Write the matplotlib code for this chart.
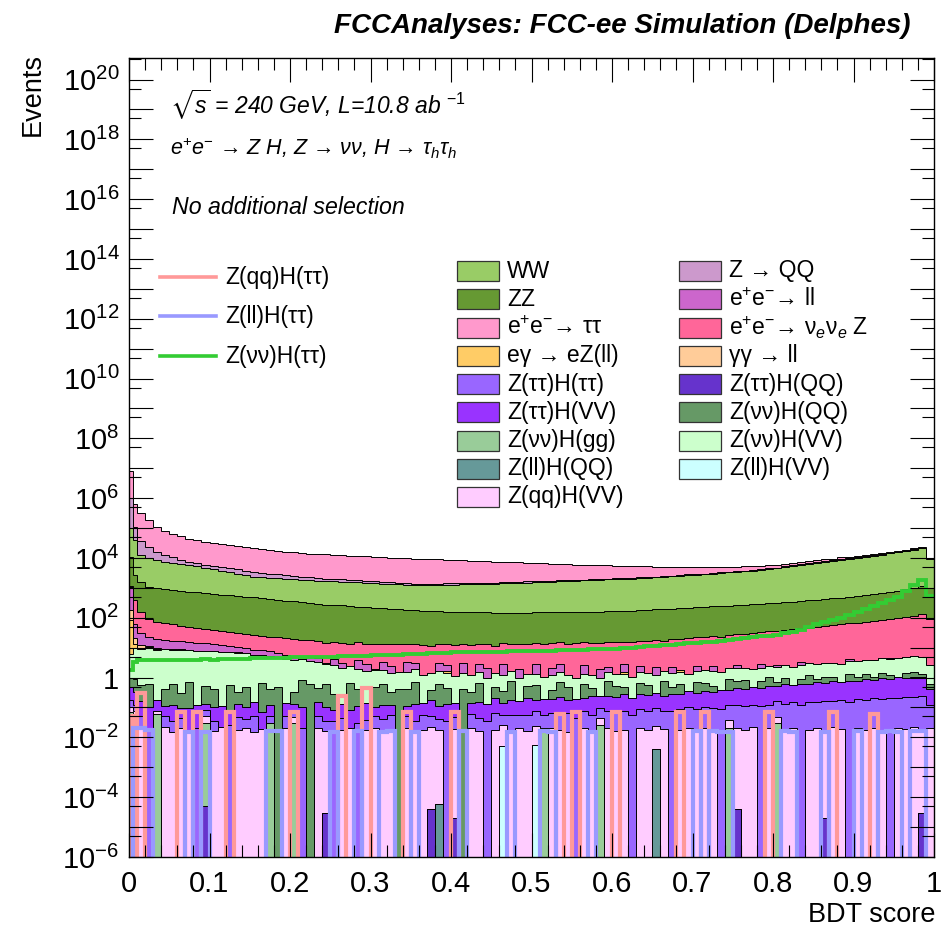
import numpy as np
import matplotlib
matplotlib.use("Agg")
import matplotlib.pyplot as plt
from matplotlib.patches import Rectangle
from matplotlib.lines import Line2D
from matplotlib.ticker import FixedLocator, MultipleLocator, FuncFormatter

plt.rcParams['font.family'] = ['Liberation Sans', 'DejaVu Sans']
plt.rcParams['mathtext.fontset'] = 'custom'
plt.rcParams['mathtext.rm'] = 'Liberation Sans'
plt.rcParams['mathtext.it'] = 'Liberation Sans:italic'
plt.rcParams['mathtext.bf'] = 'Liberation Sans:bold'
plt.rcParams['mathtext.sf'] = 'Liberation Sans'
plt.rcParams['mathtext.fallback'] = 'stixsans'

# ---------------- data ----------------
# BDT score bins: first bin 0-0.005, second 0.005-0.01, then 0.01 wide
BIN_EDGES = np.concatenate([[0.0, 0.005], np.arange(1, 101) / 100.0])

EE_TAUTAU = [
    6.8e6, 5.2e5, 2.8e5, 1.69e5, 9.6e4, 6.7e4, 5.3e4, 4.36e4, 3.71e4, 3.21e4,
    2.87e4, 2.61e4, 2.39e4, 2.23e4, 2.09e4, 1.91e4, 1.79e4, 1.68e4, 1.56e4, 1.46e4,
    1.35e4, 1.30e4, 1.24e4, 1.18e4, 1.17e4, 1.12e4, 1.10e4, 1.04e4, 1.02e4, 9.7e3,
    9.5e3, 9.3e3, 9.1e3, 8.6e3, 8.5e3, 8.3e3, 8.2e3, 7.95e3, 7.74e3, 7.53e3,
    7.3e3, 7.1e3, 6.88e3, 6.7e3, 6.46e3, 6.28e3, 6.08e3, 5.87e3, 5.65e3, 5.46e3,
    5.27e3, 5.1e3, 4.92e3, 4.73e3, 4.53e3, 4.35e3, 4.16e3, 4.12e3, 3.94e3, 3.76e3,
    3.58e3, 3.41e3, 3.23e3, 3.19e3, 3.01e3, 2.9e3, 2.74e3, 2.63e3, 2.45e3, 2.33e3,
    2.2e3, 2.13e3, 1.99e3, 1.85e3, 1.7e3, 1.66e3, 1.5e3, 1.46e3, 1.39e3, 1.33e3,
    1.15e3, 1.1e3, 1.06e3, 1.14e3, 1.08e3, 1.15e3, 1.08e3, 1.15e3, 1.04e3, 1.38e3,
    1.43e3, 1.5e3, 1.4e3, 1.55e3, 1.6e3, 1.45e3, 1.2e3, 1.3e3, 1.0e3, 600,
    300]

Z_QQ = [
    9.0e5, 7.2e4, 2.3e4, 1.24e4, 7.7e3, 5.0e3, 3.6e3, 2.6e3, 1.84e3, 1.5e3,
    1.24e3, 1.33e3, 1.18e3, 1.26e3, 1.22e3, 1.17e3, 1.07e3, 950, 830, 730,
    690, 560, 540, 470, 400, 340, 290, 290, 270, 270,
    260, 250, 240, 230, 190, 160, 120, 120, 120, 120,
    120, 120, 125, 125, 130, 130, 130, 135, 140, 140,
    145, 110, 110, 115, 115, 120, 120, 125, 130, 130,
    135, 135, 140, 145, 150, 150, 155, 160, 165, 175,
    180, 130, 135, 140, 150, 155, 160, 170, 175, 185,
    200, 215, 235, 250, 275, 295, 320, 350, 380, 410,
    440, 470, 510, 550, 600, 650, 700, 780, 850, 900,
    400]

WW = [
    9.0e4, 3.7e4, 1.1e4, 8.9e3, 7.5e3, 6.7e3, 6.1e3, 5.5e3, 5.0e3, 4.5e3,
    4.13e3, 3.54e3, 3.13e3, 2.75e3, 2.43e3, 2.13e3, 1.92e3, 1.84e3, 1.77e3, 1.69e3,
    1.63e3, 1.6e3, 1.53e3, 1.51e3, 1.45e3, 1.42e3, 1.4e3, 1.36e3, 1.3e3, 1.28e3,
    1.26e3, 1.23e3, 1.17e3, 1.15e3, 1.13e3, 1.11e3, 1.09e3, 1.09e3, 1.09e3, 1.10e3,
    1.13e3, 1.14e3, 1.16e3, 1.17e3, 1.2e3, 1.2e3, 1.23e3, 1.26e3, 1.3e3, 1.33e3,
    1.36e3, 1.4e3, 1.43e3, 1.47e3, 1.51e3, 1.55e3, 1.58e3, 1.62e3, 1.66e3, 1.70e3,
    1.75e3, 1.78e3, 1.83e3, 1.87e3, 1.91e3, 2.0e3, 2.05e3, 2.15e3, 2.2e3, 2.3e3,
    2.41e3, 2.53e3, 2.65e3, 2.78e3, 2.91e3, 3.05e3, 3.2e3, 3.35e3, 3.51e3, 3.69e3,
    3.96e3, 4.25e3, 4.68e3, 5.02e3, 5.53e3, 5.93e3, 6.52e3, 6.99e3, 7.68e3, 8.24e3,
    8.83e3, 9.46e3, 1.04e4, 1.11e4, 1.22e4, 1.34e4, 1.47e4, 1.61e4, 1.81e4, 2.03e4,
    8.3e3]

ZZ = [
    9.9e3, 2.3e3, 1.42e3, 1.01e3, 880, 823, 770, 720, 690, 660,
    617, 591, 553, 528, 493, 472, 452, 421, 393, 376,
    351, 335, 312, 292, 272, 260, 248, 243, 231, 220,
    210, 205, 195, 187, 178, 169, 162, 158, 154, 150,
    146, 143, 143, 138, 138, 138, 138, 135, 135, 134,
    134, 138, 138, 138, 138, 137, 141, 141, 144, 144,
    147, 151, 154, 158, 161, 165, 173, 176, 184, 189,
    198, 202, 211, 215, 225, 230, 241, 245, 256, 262,
    274, 279, 292, 305, 318, 332, 347, 362, 388, 405,
    433, 465, 497, 534, 572, 629, 689, 776, 874, 985,
    900]

EE_NUENUE_Z = [
    60, 335, 127, 67, 54, 48, 43, 38, 35, 32,
    29, 26, 23, 21, 20.5, 19, 18, 17, 16, 15.5,
    15, 14, 13.2, 12.5, 12.8, 11.6, 11.2, 11.8, 10.6, 11.3,
    10.8, 11.5, 10.2, 10.9, 11.4, 10.1, 10.6, 11.2, 9.8, 10.5,
    10.3, 11.0, 10.1, 11.3, 10.7, 11.6, 10.4, 11.5, 12.0, 11.1,
    12.3, 11.6, 12.6, 11.9, 12.8, 12.1, 13.0, 12.4, 13.3, 12.7,
    12.9, 13.8, 13.2, 14.5, 14.0, 15.2, 15.8, 15.1, 17.0, 17.8,
    20.2, 19.5, 21.8, 22.5, 22.0, 24.6, 25.5, 26.8, 28.0, 29.9,
    33, 33.5, 36, 38.5, 41, 43.5, 47, 50.5, 53, 57.5,
    63, 66, 70, 76, 80, 86, 93, 104, 113, 133,
    90]

EE_LL = [
    900, 40, 20, 12, 10, 9, 8.5, 8, 7, 6.5,
    6, 5.5, 5, 4.5, 3.8, 3.3, 2.8, 2.5, 2.3, 2.0,
    1.6, 1.4, 0, 1.5, 1.2, 0, 1.6, 1.0, 0, 1.8,
    1.3, 0, 1.5, 0.9, 0, 1.7, 1.2, 0, 0, 1.5,
    1.0, 0, 1.6, 0, 1.3, 1.1, 0, 1.6, 0, 1.0,
    0, 1.4, 0, 0.9, 1.3, 0, 0, 1.2, 0, 1.0,
    0.8, 0, 1.3, 0, 0.9, 0, 1.1, 0, 0.8, 0,
    0, 0.7, 0, 0.9, 0, 0, 0.6, 0, 0, 0.8,
    0, 0.5, 0, 0, 0.6, 0, 0, 0, 0, 0,
    0.5, 0, 0, 0, 0, 0.4, 0, 0, 0, 0,
    0]

GAMGAM_LL = [
    100, 8, 2, 0.8, 0.4, 0, 0.3, 0, 0.2, 0,
    0, 0, 0, 0, 0, 0, 0, 0, 0, 0,
    0, 0, 0, 0, 0, 0, 0, 0, 0, 0,
    0, 0, 0, 0, 0, 0, 0, 0, 0, 0,
    0, 0, 0, 0, 0, 0, 0, 0, 0, 0,
    0, 0, 0, 0, 0, 0, 0, 0, 0, 0,
    0, 0, 0, 0, 0, 0, 0, 0, 0, 0,
    0, 0, 0, 0, 0, 0, 0, 0, 0, 0,
    0, 0, 0, 0, 0, 0, 0, 0, 0, 0,
    0, 0, 0, 0, 0, 0, 0, 0, 0, 0,
    0]

EGAMMA_EZLL = [
    80, 3, 1.0, 0.6, 0.5, 0.3, 0, 0.3, 0, 0.25,
    0, 0, 0.2, 0, 0.3, 0, 0, 0, 0, 0,
    0, 0, 0, 0, 0, 0.2, 0, 0, 0, 0,
    0, 0.15, 0, 0, 0, 0, 0, 0, 0, 0,
    0.2, 0, 0, 0, 0, 0, 0, 0, 0, 0,
    0, 0, 0, 0, 0, 0, 0, 0, 0, 0,
    0, 0, 0.25, 0, 0, 0, 0, 0, 0, 0.3,
    0, 0, 0, 0, 0, 0, 0, 0, 0, 0,
    0, 0, 0, 0, 0, 0, 0, 0, 0, 0,
    0, 0, 0, 0, 0.3, 0, 0, 0, 0, 0,
    0]

ZNUNU_HVV = [
    5, 9, 8.5, 9.2, 8.4, 8.6, 7.9, 8.1, 7.7, 7.6,
    7.5, 7.1, 7.0, 6.6, 6.5, 5.9, 5.7, 5.1, 4.9, 4.3,
    4.1, 3.5, 3.4, 2.9, 2.8, 2.3, 2.3, 1.9, 1.85, 1.55,
    1.5, 1.25, 1.22, 1.15, 1.15, 1.1, 1.15, 1.08, 1.1, 1.03,
    1.02, 0.96, 0.97, 0.9, 0.92, 0.86, 0.88, 0.83, 0.85, 0.81,
    0.83, 0.78, 0.82, 0.79, 0.8, 0.77, 0.79, 0.76, 0.8, 0.77,
    0.79, 0.78, 0.82, 0.8, 0.85, 0.83, 0.89, 0.88, 0.94, 0.93,
    1.0, 1.0, 1.08, 1.08, 1.17, 1.18, 1.28, 1.28, 1.4, 1.4,
    1.45, 1.5, 1.62, 1.64, 1.78, 1.8, 1.94, 1.97, 2.12, 2.18,
    2.33, 2.4, 2.64, 2.7, 2.94, 3.05, 3.34, 3.45, 3.62, 3.58,
    2.0]

ZNUNU_HQQ = [
    0.5, 0.6, 0.4, 0.5, 0, 0.3, 0.5, 0.2, 0.6, 0,
    0.4, 0.3, 0, 0.5, 0.2, 0.4, 0, 0.6, 0.3, 0.5,
    0, 0.2, 0.7, 0.6, 0.3, 0.5, 0.2, 0, 0.6, 0.3,
    0, 0.4, 0.5, 0.2, 0.4, 0.3, 0.6, 0, 0.2, 0.5,
    0.3, 0, 0.4, 0.2, 0.5, 0, 0.3, 0.2, 0.6, 0,
    0.3, 0.4, 0, 0.2, 0.5, 0.3, 0, 0.4, 0.2, 0,
    0.5, 0.3, 0.2, 0, 0.4, 0.3, 0, 0.5, 0.2, 0.3,
    0, 0.4, 0.3, 0.2, 0, 0.5, 0.3, 0.4, 0, 0.3,
    0.5, 0.2, 0.4, 0, 0.3, 0.6, 0.2, 0.4, 0.3, 0,
    0.5, 0.3, 0.4, 0.2, 0.5, 0.3, 0, 0.4, 0.5, 0.3,
    0.2]

ZTAUTAU_HVV = [
    0.3, 0.2, 0.12, 0.08, 0.1, 0.06, 0.09, 0.05, 0.08, 0.1,
    0.05, 0.07, 0.09, 0.04, 0.08, 0.06, 0.1, 0.05, 0.07, 0,
    0.09, 0.06, 0.08, 0, 0.1, 0.07, 0.05, 0.09, 0.06, 0.08,
    0.1, 0.05, 0.08, 0.07, 0, 0.06, 0.09, 0.08, 0.12, 0.07,
    0.1, 0.09, 0, 0.08, 0.11, 0.1, 0.14, 0.09, 0.12, 0.11,
    0.15, 0.1, 0.14, 0.12, 0.16, 0.11, 0.15, 0.13, 0.18, 0.14,
    0.17, 0.15, 0.2, 0.16, 0.19, 0.18, 0.22, 0.17, 0.21, 0.2,
    0.25, 0.22, 0.26, 0.24, 0.3, 0.27, 0.32, 0.3, 0.36, 0.33,
    0.4, 0.37, 0.47, 0.41, 0.5, 0.44, 0.55, 0.49, 0.6, 0.53,
    0.63, 0.58, 0.7, 0.64, 0.76, 0.7, 0.82, 0.76, 0.86, 0.8,
    0.3]

ZTAUTAU_HTAUTAU = [
    0.08, 0.05, 0.03, 0.02, 0, 0.03, 0.02, 0.025, 0, 0.02,
    0.03, 0.02, 0, 0.025, 0.03, 0.02, 0.035, 0, 0.02, 0,
    0.03, 0.025, 0.02, 0, 0.03, 0.02, 0.035, 0.025, 0, 0.03,
    0.02, 0.03, 0.025, 0.035, 0, 0.03, 0.02, 0.04, 0.03, 0.025,
    0.035, 0.03, 0, 0.04, 0.03, 0.035, 0.045, 0.03, 0.04, 0.035,
    0.04, 0.05, 0.035, 0.045, 0.04, 0.05, 0.045, 0.055, 0.04, 0.05,
    0.055, 0.05, 0.06, 0.055, 0.065, 0.06, 0.07, 0.06, 0.075, 0.07,
    0.08, 0.07, 0.085, 0.08, 0.09, 0.085, 0.1, 0.09, 0.1, 0.11,
    0.1, 0.12, 0.11, 0.13, 0.12, 0.14, 0.13, 0.15, 0.14, 0.16,
    0.15, 0.17, 0.16, 0.18, 0.17, 0.2, 0.19, 0.21, 0.2, 0.22,
    0.1]

ZQQ_HVV = [
    0.03, 0.025, 0.02, 0, 0.018, 0.022, 0.015, 0.02, 0.017, 0,
    0.02, 0.016, 0.022, 0, 0.018, 0.02, 0.015, 0.019, 0, 0,
    0.02, 0.017, 0, 0, 0.021, 0.016, 0, 0.018, 0.02, 0,
    0.017, 0.021, 0.015, 0.019, 0, 0.02, 0.016, 0.018, 0.022, 0.017,
    0, 0.019, 0, 0.02, 0.016, 0, 0.018, 0.021, 0.017, 0.02,
    0.016, 0.019, 0, 0.02, 0.018, 0.015, 0, 0.021, 0.017, 0.019,
    0.02, 0.016, 0.018, 0, 0.021, 0.017, 0.02, 0.019, 0, 0.018,
    0.02, 0.017, 0.021, 0.016, 0, 0.019, 0.02, 0.018, 0.022, 0,
    0.02, 0.017, 0.019, 0.021, 0, 0.018, 0.02, 0.016, 0.022, 0.019,
    0, 0.02, 0.018, 0.021, 0.017, 0, 0.02, 0.019, 0.022, 0.018,
    0.02]

ZNUNU_HGG = [
    0.05, 0.04, 0, 0, 0.06, 0, 0, 0, 0, 0,
    0.03, 0, 0, 0, 0, 0, 0, 0, 0.03, 0,
    0, 0.03, 0, 0, 0, 0, 0, 0, 0, 0,
    0, 0, 0, 0, 0, 0, 0, 0, 0, 0,
    0, 0, 0, 0, 0, 0, 0, 0, 0, 0,
    0, 0, 0.02, 0, 0, 0, 0, 0, 0, 0.025,
    0, 0, 0, 0, 0, 0, 0, 0, 0, 0,
    0, 0, 0, 0, 0, 0.02, 0, 0, 0, 0,
    0, 0.03, 0, 0, 0, 0, 0, 0, 0, 0,
    0, 0, 0, 0, 0, 0, 0, 0, 0, 0,
    0]

ZLL_HQQ = [
    0.01, 0, 0, 0, 0, 0, 0, 0, 0, 0,
    0, 0, 0, 0, 0, 0, 0, 0, 0, 0,
    0, 0, 0, 0, 0, 0, 0, 0, 0, 0,
    0, 0, 0, 0, 0, 0, 0, 0, 0, 6e-5,
    0, 0, 0, 0, 0, 0, 0, 0, 0, 0,
    0, 0, 0, 0, 0, 0, 0, 0, 0, 0,
    0, 0, 0, 0, 0, 0, 0.004, 0, 0, 0,
    0, 0, 0, 0, 0, 0, 0, 0, 0, 0,
    0, 0, 0, 0, 0, 0, 0, 0, 0, 0,
    0, 0, 0, 0, 0, 0, 0, 0, 0, 0,
    0]

ZTAUTAU_HQQ = [
    0, 0, 0, 0, 0, 0, 0, 0, 0, 0,
    5e-5, 0, 0, 0, 0, 0, 0, 0, 0, 0,
    0, 0, 0, 0, 0, 3e-5, 0, 0, 0, 0,
    0, 0, 0, 0, 0, 0, 0, 0, 4e-5, 0,
    0, 2e-5, 0, 0, 0, 0, 0, 0, 0, 0,
    0, 0, 0, 0, 0, 0, 0, 0, 0, 0,
    0, 0, 0, 0, 0, 0, 0, 0, 0, 0,
    0, 0, 0, 0, 0, 0, 4e-5, 0, 0, 0,
    0, 0, 0, 0, 0, 0, 0, 2e-5, 0, 0,
    0, 0, 0, 0, 0, 0, 0, 0, 0, 3e-5,
    0]

ZLL_HVV = [
    0.012, 0.01, 0, 0, 0, 0, 0, 0, 0, 0,
    0, 0, 0, 0, 0, 0, 0, 0, 0, 0,
    0, 0, 0, 0, 0, 0, 0, 0, 0, 0,
    0, 0, 0, 0, 0, 0, 0, 0, 0, 0,
    0, 0, 0, 0, 0, 0, 0, 0.005, 0, 0,
    0, 0.0056, 0, 0, 0, 0, 0, 0, 0, 0,
    0, 0, 0, 0, 0, 0, 0, 0, 0, 0,
    0, 0, 0, 0, 0, 0, 0, 0, 0, 0,
    0, 0, 0, 0, 0, 0, 0, 0, 0, 0,
    0, 0, 0, 0, 0, 0, 0, 0, 0, 0,
    0]

# signals (drawn as lines)
SIG_ZQQ_HTAUTAU = [
    0.05, 0, 0.3, 0, 0, 0, 0, 0.07, 0, 0.07,
    0, 0, 0, 0.07, 0, 0, 0, 0, 0, 0,
    0, 0.07, 0, 0, 0, 0, 0, 0.25, 0, 0,
    0.45, 0, 0, 0, 0, 0.07, 0, 0, 0, 0,
    0, 0.07, 0, 0, 0, 0, 0, 0, 0, 0,
    0, 0, 0, 0, 0.06, 0, 0.07, 0, 0, 0,
    0, 0.07, 0, 0, 0, 0, 0, 0, 0, 0.07,
    0, 0, 0.07, 0, 0, 0, 0, 0, 0, 0,
    0.07, 0, 0, 0, 0, 0, 0, 0, 0.07, 0,
    0, 0, 0, 0.06, 0, 0, 0, 0, 0, 0,
    0]

SIG_ZLL_HTAUTAU = [
    0, 0.02, 0.02, 0.018, 0, 0, 0, 0, 0.015, 0,
    0.015, 0, 0, 0, 0, 0, 0, 0, 0.016, 0.016,
    0, 0, 0, 0, 0, 0, 0.015, 0, 0, 0.016,
    0, 0, 0.015, 0.016, 0, 0, 0.015, 0, 0, 0,
    0, 0, 0.016, 0, 0, 0, 0, 0, 0.015, 0,
    0, 0, 0.016, 0.015, 0, 0, 0, 0, 0.015, 0,
    0, 0, 0, 0, 0, 0, 0, 0, 0, 0,
    0, 0.016, 0, 0.016, 0.015, 0.015, 0, 0, 0, 0,
    0, 0, 0.016, 0.015, 0, 0, 0, 0.015, 0, 0,
    0, 0.016, 0, 0, 0.015, 0.016, 0.015, 0, 0.016, 0.016,
    0]

SIG_ZNUNU_HTAUTAU = [
    1.8, 3.2, 3.8, 4.0, 3.9, 4.0, 3.9, 3.8, 4.0, 4.0,
    4.1, 4.0, 4.2, 4.1, 4.2, 4.3, 4.5, 4.4, 4.5, 4.6,
    4.6, 4.7, 4.8, 4.8, 4.9, 5.0, 5.0, 5.1, 5.2, 5.2,
    5.4, 5.5, 5.6, 5.75, 5.9, 6.0, 6.3, 6.3, 6.45, 6.6,
    6.75, 6.9, 6.9, 7.1, 7.2, 7.2, 7.4, 7.4, 7.6, 7.6,
    7.8, 7.8, 7.9, 7.9, 8.1, 8.3, 8.3, 8.5, 8.7, 8.9,
    9.1, 9.3, 9.8, 10.0, 10.5, 11.0, 11.5, 12.0, 12.6, 13.2,
    13.8, 14.5, 15.1, 15.8, 17.0, 18.2, 19.5, 20.9, 22.4, 24.0,
    25.1, 26.3, 30.2, 34.7, 39.8, 47.9, 60.3, 72.4, 85.1, 100,
    126, 158, 200, 245, 302, 380, 501, 794, 1259, 1778,
    537]

# stack order: bottom -> top  (label, values, colour)
STACK = [
    ("Z(ll)H(VV)", ZLL_HVV, "#ccffff"),
    ("Z(ττ)H(QQ)", ZTAUTAU_HQQ, "#6633cc"),
    ("Z(ll)H(QQ)", ZLL_HQQ, "#669999"),
    ("Z(νν)H(gg)", ZNUNU_HGG, "#99cc99"),
    ("Z(qq)H(VV)", ZQQ_HVV, "#ffccff"),
    ("Z(ττ)H(ττ)", ZTAUTAU_HTAUTAU, "#9966ff"),
    ("Z(ττ)H(VV)", ZTAUTAU_HVV, "#9933ff"),
    ("Z(νν)H(QQ)", ZNUNU_HQQ, "#669966"),
    ("Z(νν)H(VV)", ZNUNU_HVV, "#ccffcc"),
    ("eγ → eZ(ll)", EGAMMA_EZLL, "#ffcc66"),
    ("γγ → ll", GAMGAM_LL, "#ffcc99"),
    ("ee→ll", EE_LL, "#cc66cc"),
    ("ee→nunuZ", EE_NUENUE_Z, "#ff6699"),
    ("ZZ", ZZ, "#669933"),
    ("WW", WW, "#99cc66"),
    ("Z→QQ", Z_QQ, "#cc99cc"),
    ("ee→tautau", EE_TAUTAU, "#ff99cc"),
]

# legend (two columns, as in the reference)
LEGEND_COL1 = [
    ("WW", "#99cc66"),
    ("ZZ", "#669933"),
    ("e$^{+}$e$^{-}$→ ττ", "#ff99cc"),
    ("eγ → eZ(ll)", "#ffcc66"),
    ("Z(ττ)H(ττ)", "#9966ff"),
    ("Z(ττ)H(VV)", "#9933ff"),
    ("Z(νν)H(gg)", "#99cc99"),
    ("Z(ll)H(QQ)", "#669999"),
    ("Z(qq)H(VV)", "#ffccff"),
]
LEGEND_COL2 = [
    ("Z → QQ", "#cc99cc"),
    ("e$^{+}$e$^{-}$→ ll", "#cc66cc"),
    ("e$^{+}$e$^{-}$→ ν$_{e}$ν$_{e}$ Z", "#ff6699"),
    ("γγ → ll", "#ffcc99"),
    ("Z(ττ)H(QQ)", "#6633cc"),
    ("Z(νν)H(QQ)", "#669966"),
    ("Z(νν)H(VV)", "#ccffcc"),
    ("Z(ll)H(VV)", "#ccffff"),
]
SIGNALS = [
    ("Z(qq)H(ττ)", SIG_ZQQ_HTAUTAU, "#ff9999"),
    ("Z(ll)H(ττ)", SIG_ZLL_HTAUTAU, "#9999ff"),
    ("Z(νν)H(ττ)", SIG_ZNUNU_HTAUTAU, "#33cc33"),
]

for _n, _v, _c in STACK + SIGNALS:
    assert len(_v) == len(BIN_EDGES) - 1, (_n, len(_v))

# ---------------- figure ----------------
W = H = 941
fig = plt.figure(figsize=(W / 100, H / 100), dpi=100)


def fx(px):
    return px / W


def fy(py):
    return 1.0 - py / H


AX_L, AX_R, AX_T, AX_B = 129, 934, 58, 857
ax = fig.add_axes([fx(AX_L), fy(AX_B), (AX_R - AX_L) / W, (AX_B - AX_T) / H])
ax.set_yscale('log')
ax.set_xlim(0, 1)
ax.set_ylim(1e-6, 10 ** 20.72)
ax.set_axisbelow(False)

FLOOR = 1e-12
cum = np.cumsum(np.vstack([np.asarray(v, float) for _, v, _ in STACK]), axis=0)
for k in range(len(STACK) - 1, -1, -1):
    ax.stairs(np.maximum(cum[k], FLOOR), BIN_EDGES, baseline=FLOOR, fill=True,
              facecolor=STACK[k][2], edgecolor='black', linewidth=0.7, zorder=1)

for i, (name, vals, col) in enumerate(SIGNALS):
    v = np.maximum(np.asarray(vals, float), FLOOR)
    base = None if i == 2 else FLOOR
    ax.stairs(v, BIN_EDGES, baseline=base, fill=False, color=col,
              linewidth=(2.8 if i == 2 else 3.0), zorder=2)

# axes / ticks
ax.yaxis.set_major_locator(FixedLocator([10.0 ** e for e in range(-6, 21)]))
ax.yaxis.set_minor_locator(FixedLocator([5 * 10.0 ** e for e in range(-7, 21)]))


def ylab(v, pos):
    e = int(round(np.log10(v)))
    if e % 2:
        return ''
    if e == 0:
        return '1'
    return r'$10^{%d}$' % e


ax.yaxis.set_major_formatter(FuncFormatter(ylab))
ax.xaxis.set_major_locator(MultipleLocator(0.1))
ax.xaxis.set_minor_locator(MultipleLocator(0.02))
ax.xaxis.set_major_formatter(FuncFormatter(lambda v, p: '%g' % round(v, 2)))
ax.tick_params(which='both', direction='in', top=True, right=True, width=0.8,
               color='black')
ax.tick_params(which='major', length=17.5, labelsize=21)
ax.tick_params(which='minor', length=8.7)
ax.tick_params(axis='x', pad=9)
ax.tick_params(axis='y', pad=7)
for s in ax.spines.values():
    s.set_linewidth(1.0)
    s.set_zorder(5)

# texts
fig.text(fx(910), fy(33), "FCCAnalyses: FCC-ee Simulation (Delphes)",
         ha='right', va='baseline', fontsize=20, fontweight='bold', style='italic')
fig.text(fx(33), fy(53), "Events", rotation=90, ha='center', va='top', fontsize=19.5)
fig.text(fx(935), fy(915), "BDT score", ha='right', va='center', fontsize=19.5)
fig.text(fx(170), fy(105), r"$\sqrt{s}$ = 240 GeV, L=10.8 ab $^{-1}$",
         ha='left', va='center', fontsize=16.5, style='italic')
fig.text(fx(170), fy(148),
         r"e$^{+}$e$^{-}$ → Z H, Z → νν, H → τ$_{h}$τ$_{h}$",
         ha='left', va='center', fontsize=15.5, style='italic')
fig.text(fx(172), fy(207), "No additional selection", ha='left', va='center',
         fontsize=16.7, style='italic')

# signal legend
for i, (name, vals, col) in enumerate(SIGNALS):
    yc = 277 + 39.5 * i
    fig.add_artist(Line2D([fx(160), fx(216)], [fy(yc), fy(yc)], color=col,
                          linewidth=2.6, transform=fig.transFigure))
    fig.text(fx(225), fy(yc), name, ha='left', va='center', fontsize=16.5)

# background legend
for cx, entries in ((457, LEGEND_COL1), (679, LEGEND_COL2)):
    for i, (lab, col) in enumerate(entries):
        yc = 271 + 28.25 * i
        fig.add_artist(Rectangle((fx(cx), fy(yc + 10)), 42 / W, 20 / H,
                                 facecolor=col, edgecolor='#333333', linewidth=0.9,
                                 transform=fig.transFigure))
        fig.text(fx(cx + 50), fy(yc), lab, ha='left', va='center', fontsize=16.5)

fig.savefig('out.png', dpi=100)
